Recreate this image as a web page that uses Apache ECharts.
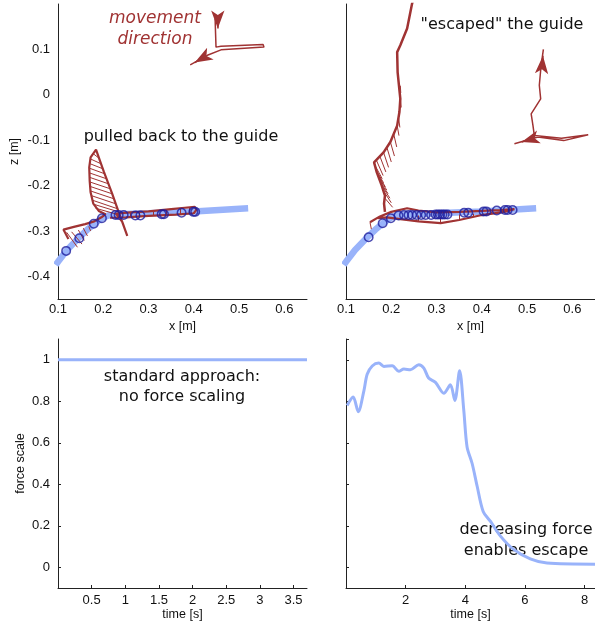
<!DOCTYPE html>
<html>
<head>
<meta charset="utf-8">
<script src="https://cdn.jsdelivr.net/npm/echarts@6/dist/echarts.min.js"></script>
<style>
  html, body { margin: 0; padding: 0; background: #fff; }
  #chart { width: 595px; height: 625px; }
</style>
</head>
<body>
<div id="chart"></div>
<script>
// guide path (same in both top panels), [x, z] in metres
const guidePath = [
  [0.095, -0.375], [0.1, -0.368], [0.12, -0.342], [0.145, -0.316], [0.165, -0.297],
  [0.182, -0.283], [0.197, -0.272], [0.211, -0.266], [0.235, -0.263], [0.3, -0.261],
  [0.4, -0.257], [0.52, -0.25]
]

// standard approach: trajectory + force vectors + via points
const trajStandard = [
  [0.123, -0.318], [0.112, -0.297], [0.135, -0.291], [0.16, -0.285], [0.18, -0.279],
  [0.196, -0.27], [0.205, -0.263], [0.19, -0.256], [0.178, -0.24], [0.172, -0.215],
  [0.17, -0.19], [0.169, -0.16], [0.172, -0.138], [0.184, -0.121], [0.201, -0.169],
  [0.219, -0.216], [0.236, -0.264], [0.253, -0.311], [0.242, -0.28], [0.228, -0.262],
  [0.26, -0.259], [0.3, -0.257], [0.35, -0.252], [0.38, -0.249], [0.402, -0.247],
  [0.406, -0.253], [0.4, -0.261], [0.36, -0.264], [0.3, -0.267], [0.25, -0.27],
  [0.215, -0.271]
]
const forceStandard = [
  [0.178, -0.13, 0.191, -0.14], [0.173, -0.142, 0.195, -0.152], [0.171, -0.152, 0.199, -0.163],
  [0.17, -0.162, 0.203, -0.174], [0.169, -0.172, 0.207, -0.185], [0.17, -0.182, 0.211, -0.196],
  [0.17, -0.192, 0.215, -0.207], [0.171, -0.202, 0.219, -0.218], [0.172, -0.212, 0.223, -0.229],
  [0.173, -0.222, 0.227, -0.24], [0.175, -0.232, 0.231, -0.251], [0.178, -0.241, 0.234, -0.258],
  [0.183, -0.25, 0.236, -0.265],
  [0.119, -0.303, 0.143, -0.336], [0.13, -0.302, 0.153, -0.329], [0.145, -0.298, 0.158, -0.321],
  [0.156, -0.294, 0.165, -0.311], [0.168, -0.29, 0.172, -0.3],
  [0.26, -0.259, 0.26, -0.27], [0.28, -0.258, 0.28, -0.268], [0.31, -0.256, 0.31, -0.267],
  [0.34, -0.253, 0.34, -0.265], [0.37, -0.25, 0.37, -0.264], [0.39, -0.248, 0.39, -0.262]
]
const viaStandard = [
  [0.118, -0.344], [0.147, -0.316], [0.179, -0.284], [0.197, -0.272], [0.227, -0.265],
  [0.234, -0.265], [0.245, -0.265], [0.271, -0.266], [0.282, -0.266], [0.329, -0.263],
  [0.334, -0.263], [0.373, -0.26], [0.399, -0.258], [0.403, -0.258]
]

// force scaling: escaping trajectory
const trajEscape = [
  [0.25, 0.215], [0.246, 0.201], [0.235, 0.146], [0.22, 0.109], [0.213, 0.094],
  [0.214, 0.05], [0.218, 0.01], [0.22, -0.009], [0.218, -0.038], [0.213, -0.068],
  [0.198, -0.104], [0.183, -0.127], [0.162, -0.149], [0.168, -0.171], [0.179, -0.2],
  [0.186, -0.222], [0.184, -0.24], [0.186, -0.258]
]
const trajEscapeLoop = [
  [0.153, -0.281], [0.175, -0.268], [0.2, -0.258], [0.235, -0.25], [0.26, -0.255],
  [0.3, -0.259], [0.35, -0.258], [0.4, -0.256], [0.44, -0.254], [0.472, -0.252],
  [0.45, -0.258], [0.4, -0.265], [0.35, -0.276], [0.309, -0.283], [0.26, -0.279],
  [0.22, -0.274], [0.19, -0.27], [0.17, -0.272]
]
const forceEscape = [
  [0.22, 0.02, 0.221, 0.004], [0.22, -0.009, 0.222, -0.028], [0.216, -0.05, 0.219, -0.072],
  [0.213, -0.068, 0.217, -0.09], [0.205, -0.085, 0.212, -0.115], [0.198, -0.104, 0.207, -0.135],
  [0.19, -0.115, 0.2, -0.148], [0.183, -0.127, 0.194, -0.16], [0.175, -0.136, 0.188, -0.17],
  [0.167, -0.144, 0.182, -0.178], [0.162, -0.152, 0.18, -0.185], [0.165, -0.163, 0.183, -0.194],
  [0.168, -0.172, 0.187, -0.203], [0.172, -0.182, 0.19, -0.21], [0.176, -0.193, 0.193, -0.218],
  [0.181, -0.203, 0.197, -0.228], [0.185, -0.215, 0.2, -0.238], [0.186, -0.228, 0.203, -0.248],
  [0.153, -0.281, 0.156, -0.296], [0.26, -0.266, 0.26, -0.279], [0.309, -0.27, 0.309, -0.283],
  [0.35, -0.264, 0.35, -0.276], [0.38, -0.262, 0.38, -0.269], [0.42, -0.258, 0.42, -0.262]
]
const viaEscape = [
  [0.15, -0.314], [0.181, -0.283], [0.199, -0.272], [0.216, -0.266], [0.228, -0.265],
  [0.238, -0.265], [0.246, -0.265], [0.256, -0.265], [0.266, -0.265], [0.276, -0.265],
  [0.288, -0.265], [0.298, -0.264], [0.303, -0.264], [0.308, -0.264], [0.313, -0.264],
  [0.318, -0.264], [0.324, -0.264], [0.361, -0.26], [0.37, -0.26], [0.404, -0.257],
  [0.41, -0.257], [0.433, -0.255], [0.451, -0.254], [0.457, -0.254], [0.468, -0.254]
]

// little "movement direction" sketches + their arrow heads (pairs of points)
const dirStandard = [
  [0.447, 0.168], [0.449, 0.105], [0.46, 0.107], [0.553, 0.111], [0.555, 0.105],
  [0.46, 0.099], [0.43, 0.087], [0.392, 0.066]
]
const headsStandard = [[0.453, 0.172], [0.453, 0.146], [0.425, 0.084], [0.402, 0.071]]
const dirEscapeUp = [
  [0.516, -0.09], [0.513, -0.068], [0.509, -0.042], [0.53, -0.009], [0.527, 0.021],
  [0.531, 0.065], [0.536, 0.1]
]
const dirEscapeLeft = [
  [0.516, -0.09], [0.576, -0.096], [0.635, -0.088], [0.581, -0.101], [0.524, -0.093],
  [0.472, -0.108]
]
const headsEscape = [[0.533, 0.06], [0.535, 0.086], [0.515, -0.096], [0.488, -0.104]]

// force scale over time
const timeStandard = [0, 3.7]
const scaleStandard = [1, 1]
const timeEscape = [
  0.04, 0.24, 0.41, 0.6, 0.71, 0.88, 1.1, 1.27, 1.55, 1.77, 1.94, 2.16, 2.44, 2.61, 2.77,
  3.0, 3.28, 3.5, 3.65, 3.81, 3.95, 4.06, 4.23, 4.4, 4.6, 4.84, 5.18, 5.62, 6.18, 6.74, 8.36
]
const scaleEscape = [
  0.78, 0.82, 0.75, 0.85, 0.93, 0.97, 0.984, 0.968, 0.971, 0.944, 0.955, 0.952, 0.976, 0.96,
  0.912, 0.891, 0.839, 0.879, 0.804, 0.947, 0.756, 0.58, 0.5, 0.389, 0.269, 0.222, 0.15,
  0.086, 0.04, 0.02, 0.015
]

const RED = '#a03333'
const BLUE = '#99b3fa'
const NAVY = '#1e1e9e'
const TICK_FONT = 'Liberation Sans'

const chart = echarts.init(document.getElementById('chart'), null, { renderer: 'canvas' })

function axis(gridIndex, min, max, split, extra) {
  return Object.assign({
    type: 'value',
    gridIndex: gridIndex,
    min: min,
    max: max,
    splitNumber: split,
    splitLine: { show: false },
    axisLine: { show: true, onZero: false, lineStyle: { color: '#222', width: 1 } },
    axisTick: { show: false },
    nameTextStyle: { color: '#111', fontFamily: TICK_FONT, fontSize: 12.5 },
    nameLocation: 'middle'
  }, extra)
}

function labels(margin, showMin) {
  return {
    color: '#111', fontFamily: TICK_FONT, fontSize: 13, margin: margin,
    showMinLabel: showMin, showMaxLabel: false
  }
}

const innerTick = { show: true, inside: true, length: 3, lineStyle: { color: '#222' } }

function pathSeries(data, xi, width, color, z) {
  return {
    type: 'line', xAxisIndex: xi, yAxisIndex: xi, data: data,
    symbol: 'none', smooth: false, silent: true, z: z || 3,
    lineStyle: { color: color || RED, width: width }
  }
}

function segments(list, xi, width) {
  return {
    type: 'lines', coordinateSystem: 'cartesian2d', xAxisIndex: xi, yAxisIndex: xi,
    silent: true, z: 3,
    data: list.map(s => ({ coords: [[s[0], s[1]], [s[2], s[3]]] })),
    lineStyle: { color: RED, width: width || 1, opacity: 1 }
  }
}

// arrow heads: pairs of points, the head sits on the second one
function heads(points, xi) {
  const data = []
  for (let i = 0; i < points.length; i += 2) {
    data.push({ coords: [points[i], points[i + 1]] })
  }
  return {
    type: 'lines', coordinateSystem: 'cartesian2d', xAxisIndex: xi, yAxisIndex: xi,
    silent: true, z: 4,
    symbol: ['none', 'arrow'], symbolSize: [[1, 1], [10, 18]],
    data: data,
    lineStyle: { color: RED, width: 1.5, opacity: 1 }
  }
}

function viaSeries(data, xi) {
  return {
    type: 'scatter', xAxisIndex: xi, yAxisIndex: xi, data: data, silent: true, z: 6,
    symbol: 'circle', symbolSize: 8.5,
    itemStyle: { color: 'rgba(0,0,0,0)', borderColor: NAVY, borderWidth: 1.5 }
  }
}

const option = {
  animation: false,
  backgroundColor: '#fff',
  grid: [
    { left: 58, top: 4, width: 249, height: 295 },
    { left: 346, top: 4, width: 249, height: 295 },
    { left: 58, top: 339, width: 249, height: 249 },
    { left: 346, top: 339, width: 249, height: 249 }
  ],
  xAxis: [
    axis(0, 0.1, 0.65, 5, { name: 'x [m]', nameGap: 21, axisLabel: labels(4, true) }),
    axis(1, 0.1, 0.65, 5, { name: 'x [m]', nameGap: 21, axisLabel: labels(4, true) }),
    axis(2, 0, 3.7, 7, { name: 'time [s]', nameGap: 20, axisTick: innerTick, axisLabel: labels(6, false) }),
    axis(3, 0, 8.35, 4, { name: 'time [s]', nameGap: 20, axisTick: innerTick, axisLabel: labels(6, false) })
  ],
  yAxis: [
    axis(0, -0.45, 0.2, 6, { name: 'z [m]', nameGap: 37, nameRotate: 90, axisLabel: labels(8, false) }),
    axis(1, -0.45, 0.2, 6, { axisLabel: { show: false } }),
    axis(2, -0.1, 1.1, 6, { name: 'force scale', nameGap: 31, nameRotate: 90, axisTick: innerTick, axisLabel: labels(8, false) }),
    axis(3, -0.1, 1.1, 6, { axisTick: innerTick, axisLabel: { show: false } })
  ],
  series: [
    // top left
    pathSeries(guidePath, 0, 6.5, BLUE, 1),
    pathSeries(trajStandard, 0, 2.2),
    segments(forceStandard, 0),
    viaSeries(viaStandard, 0),
    pathSeries(dirStandard, 0, 1.5),
    heads(headsStandard, 0),
    // top right
    pathSeries(guidePath, 1, 6.5, BLUE, 1),
    pathSeries(trajEscape, 1, 2.5),
    pathSeries(trajEscapeLoop, 1, 2.2),
    segments(forceEscape, 1),
    viaSeries(viaEscape, 1),
    pathSeries(dirEscapeUp, 1, 1.5),
    pathSeries(dirEscapeLeft, 1, 1.5),
    heads(headsEscape, 1),
    // bottom
    pathSeries(timeStandard.map((t, i) => [t, scaleStandard[i]]), 2, 3, BLUE),
    Object.assign(pathSeries(timeEscape.map((t, i) => [t, scaleEscape[i]]), 3, 3, BLUE), { smooth: 0.3 })
  ],
  graphic: [
    {
      type: 'text', x: 155, y: 29,
      style: {
        text: 'movement\ndirection', font: 'italic 17px "DejaVu Sans"', fill: RED,
        align: 'center', verticalAlign: 'middle', lineHeight: 21
      }
    },
    {
      type: 'text', x: 181, y: 137,
      style: { text: 'pulled back to the guide', font: '16px "DejaVu Sans"', fill: '#111', align: 'center', verticalAlign: 'middle' }
    },
    {
      type: 'text', x: 502, y: 25,
      style: { text: '"escaped" the guide', font: '16px "DejaVu Sans"', fill: '#111', align: 'center', verticalAlign: 'middle' }
    },
    {
      type: 'text', x: 182, y: 387,
      style: { text: 'standard approach:\nno force scaling', font: '16px "DejaVu Sans"', fill: '#111', align: 'center', verticalAlign: 'middle', lineHeight: 20 }
    },
    {
      type: 'text', x: 526, y: 540,
      style: { text: 'decreasing force\nenables escape', font: '16px "DejaVu Sans"', fill: '#111', align: 'center', verticalAlign: 'middle', lineHeight: 21 }
    }
  ]
}

chart.setOption(option)
</script>
</body>
</html>
